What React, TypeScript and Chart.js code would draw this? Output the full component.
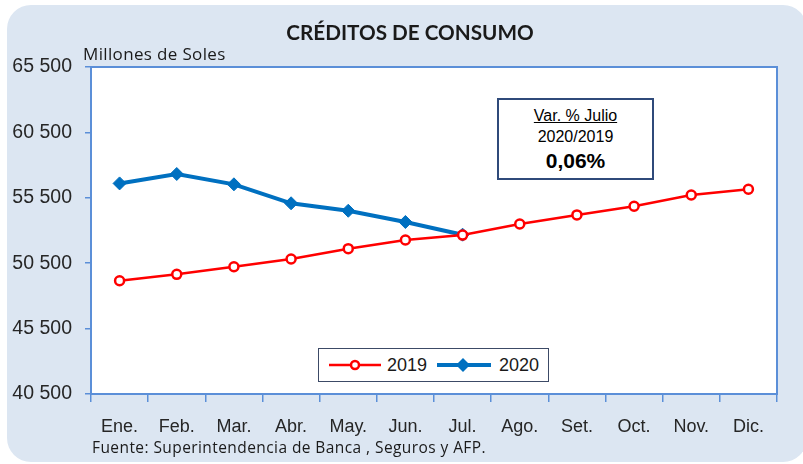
import React, { useEffect, useRef } from "react";
import { Chart, registerables } from "chart.js";

Chart.register(...registerables);

const months = ["Ene.", "Feb.", "Mar.", "Abr.", "May.", "Jun.", "Jul.", "Ago.", "Set.", "Oct.", "Nov.", "Dic."];
const values2019 = [49160, 49650, 50230, 50820, 51610, 52270, 52650, 53500, 54190, 54850, 55710, 56150];
const values2020: (number | null)[] = [56600, 57320, 56530, 55080, 54510, 53650, 52680, null, null, null, null, null];
const yMin = 40500;
const yMax = 65500;
const yStep = 5000;

const FONT = "'Liberation Sans', Arial, sans-serif";
const CAL = "Lato, 'Open Sans', sans-serif";
const OS = "'Open Sans', Lato, sans-serif";
const BLUE_BORDER = "#5b8fd8";

const fmt = (v: number) => String(v).replace(/\B(?=(\d{3})+(?!\d))/g, " ");

const plotPlugin = {
  id: "plotFrame",
  beforeDraw(chart: any) {
    const { ctx, chartArea: a } = chart;
    ctx.save();
    ctx.fillStyle = "#ffffff";
    ctx.fillRect(a.left, a.top, a.right - a.left, a.bottom - a.top);
    ctx.restore();
  },
  afterDraw(chart: any) {
    const { ctx, chartArea: a } = chart;
    ctx.save();
    ctx.strokeStyle = BLUE_BORDER;
    ctx.lineWidth = 2;
    ctx.strokeRect(a.left, a.top, a.right - a.left, a.bottom - a.top);
    ctx.restore();
  },
};

export default function App() {
  const ref = useRef<HTMLCanvasElement | null>(null);
  useEffect(() => {
    if (!ref.current) return;
    const chart = new Chart(ref.current, {
      type: "line",
      data: {
        labels: months,
        datasets: [
          {
            label: "2019",
            data: values2019,
            borderColor: "#ff0000",
            borderWidth: 2.5,
            pointStyle: "circle",
            pointRadius: 4.5,
            pointBorderWidth: 2.5,
            pointBackgroundColor: "#ffffff",
            pointBorderColor: "#ff0000",
            tension: 0,
          },
          {
            label: "2020",
            data: values2020,
            borderColor: "#0070c0",
            borderWidth: 4,
            pointStyle: "rectRot",
            pointRadius: 6.5,
            pointBorderWidth: 1,
            pointBackgroundColor: "#0070c0",
            pointBorderColor: "#0070c0",
            tension: 0,
          },
        ],
      },
      options: {
        animation: false,
        responsive: false,
        maintainAspectRatio: false,
        layout: { padding: { left: 0, right: 26, top: 67, bottom: 0 } },
        plugins: {
          legend: { display: false },
          tooltip: { enabled: false },
          title: { display: false },
        },
        scales: {
          x: {
            type: "category",
            offset: true,
            grid: {
              offset: true,
              drawOnChartArea: false,
              drawTicks: true,
              tickLength: 8,
              color: BLUE_BORDER,
              lineWidth: 1.5,
            },
            border: { display: false },
            ticks: {
              color: "#262626",
              font: { family: FONT, size: 18 },
              padding: 14,
              maxRotation: 0,
              autoSkip: false,
            },
            afterFit: (s: any) => {
              s.height = 70;
            },
          },
          y: {
            min: yMin,
            max: yMax,
            grid: {
              drawOnChartArea: false,
              drawTicks: true,
              tickLength: 6,
              color: BLUE_BORDER,
              lineWidth: 1.5,
            },
            border: { display: false },
            ticks: {
              stepSize: yStep,
              color: "#262626",
              font: { family: FONT, size: 19.5 },
              padding: 13,
              callback: (v: any) => fmt(Number(v)),
            },
            afterFit: (s: any) => {
              s.width = 91;
            },
          },
        },
      },
      plugins: [plotPlugin],
    });
    return () => chart.destroy();
  }, []);

  return (
    <div style={{ position: "absolute", left: 0, top: 0, width: 803, height: 464, background: "#ffffff", overflow: "hidden" }}>
      <div
        style={{
          position: "absolute",
          left: 7,
          top: 5,
          width: 800,
          height: 457,
          background: "#dce6f2",
          borderRadius: 24,
        }}
      />
      <canvas ref={ref} width={803} height={464} style={{ position: "absolute", left: 0, top: 0, width: 803, height: 464 }} />
      <div
        style={{
          position: "absolute",
          left: 0,
          width: 820,
          top: 18,
          textAlign: "center",
          fontFamily: CAL,
          fontWeight: 700,
          fontSize: 20.7,
          color: "#1a1a1a",
          lineHeight: "29px",
        }}
      >
        CRÉDITOS DE CONSUMO
      </div>
      <div
        style={{
          position: "absolute",
          left: 83,
          top: 42,
          fontFamily: OS,
          fontSize: 17,
          letterSpacing: 0.35,
          color: "#1a1a1a",
          lineHeight: "23px",
          whiteSpace: "nowrap",
        }}
      >
        Millones de Soles
      </div>
      <div
        style={{
          position: "absolute",
          left: 92,
          top: 437,
          fontFamily: OS,
          fontSize: 15.5,
          letterSpacing: 0.42,
          color: "#1a1a1a",
          lineHeight: "21px",
          whiteSpace: "nowrap",
        }}
      >
        Fuente: Superintendencia de Banca , Seguros y AFP.
      </div>
      <div
        style={{
          position: "absolute",
          left: 497,
          top: 98,
          width: 157,
          height: 82,
          boxSizing: "border-box",
          border: "2px solid #2f4a7a",
          background: "#ffffff",
          fontFamily: FONT,
          color: "#000",
          textAlign: "center",
        }}
      >
        <div style={{ position: "absolute", left: 0, right: 0, top: 7, fontSize: 16, lineHeight: "18px", textDecoration: "underline" }}>
          Var. % Julio
        </div>
        <div style={{ position: "absolute", left: 0, right: 0, top: 28, fontSize: 16, lineHeight: "18px" }}>2020/2019</div>
        <div style={{ position: "absolute", left: 0, right: 0, top: 49, fontSize: 21, fontWeight: 700, lineHeight: "24px" }}>
          0,06%
        </div>
      </div>
      <div
        style={{
          position: "absolute",
          left: 318,
          top: 348,
          width: 231,
          height: 34,
          boxSizing: "border-box",
          border: "1.5px solid #3c4a66",
          background: "#ffffff",
        }}
      >
        <svg width={228} height={31} style={{ position: "absolute", left: 0, top: 0 }}>
          <line x1={10} y1={16} x2={62} y2={16} stroke="#ff0000" strokeWidth={2.5} />
          <circle cx={36} cy={16} r={4} fill="#ffffff" stroke="#ff0000" strokeWidth={2.5} />
          <line x1={118} y1={16} x2={172} y2={16} stroke="#0070c0" strokeWidth={4} />
          <polygon points="144,9 151,16 144,23 137,16" fill="#0070c0" />
        </svg>
        <div style={{ position: "absolute", left: 68, top: 5, fontFamily: FONT, fontSize: 18, lineHeight: "22px", color: "#1a1a1a" }}>2019</div>
        <div style={{ position: "absolute", left: 180, top: 5, fontFamily: FONT, fontSize: 18, lineHeight: "22px", color: "#1a1a1a" }}>2020</div>
      </div>
    </div>
  );
}
